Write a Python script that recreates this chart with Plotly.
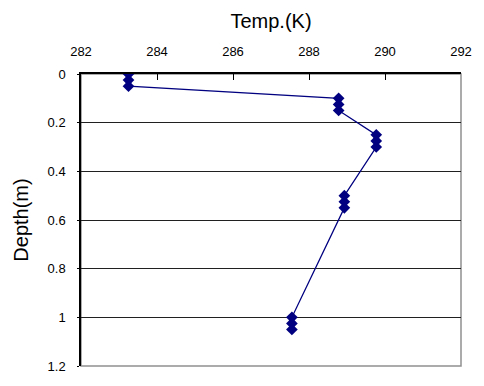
import plotly.graph_objects as go

temp_k = [283.25, 283.25, 283.25, 288.78, 288.78, 288.78, 289.77, 289.77, 289.77,
          288.93, 288.93, 288.93, 287.55, 287.55, 287.55]
depth_m = [0.0, 0.025, 0.05, 0.10, 0.125, 0.15, 0.25, 0.275, 0.30,
           0.50, 0.525, 0.55, 1.00, 1.025, 1.05]
x_ticks = [282, 284, 286, 288, 290, 292]
y_ticks = [0, 0.2, 0.4, 0.6, 0.8, 1.0, 1.2]

FONT = "Liberation Sans, Arial, sans-serif"

fig = go.Figure(go.Scatter(
    x=temp_k, y=depth_m, mode="lines+markers",
    line=dict(color="#000080", width=1.3),
    marker=dict(symbol="diamond", size=9, color="#000080"),
    showlegend=False,
))

# page body has an 8px default margin, so the figure is shifted by 8px
fig.update_layout(
    width=476, height=378,
    margin=dict(l=65, r=18, t=65, b=17),
    paper_bgcolor="white", plot_bgcolor="white",
    font=dict(family=FONT, color="black", size=13),
    shapes=[dict(type="rect", xref="paper", yref="paper", x0=0, x1=1, y0=0, y1=1,
                 line=dict(color="#909090", width=1.5), layer="below")],
)
fig.update_xaxes(
    side="top", range=[282, 292], tickvals=x_ticks,
    showgrid=False, zeroline=False,
    showline=True, linecolor="black", linewidth=1.5,
    ticks="inside", ticklen=6, tickcolor="black",
    ticklabelstandoff=11,
    title=dict(text="Temp.(K)", font=dict(size=20), standoff=10),
)
fig.update_yaxes(
    range=[1.2, 0], tickvals=y_ticks,
    showgrid=True, gridcolor="#202020", gridwidth=1, zeroline=False,
    showline=True, linecolor="black", linewidth=1.5,
    ticks="outside", ticklen=2, tickcolor="black",
    ticklabelstandoff=9,
    title=dict(text="Depth(m)", font=dict(size=20), standoff=14),
)

fig.write_html("out.html")
